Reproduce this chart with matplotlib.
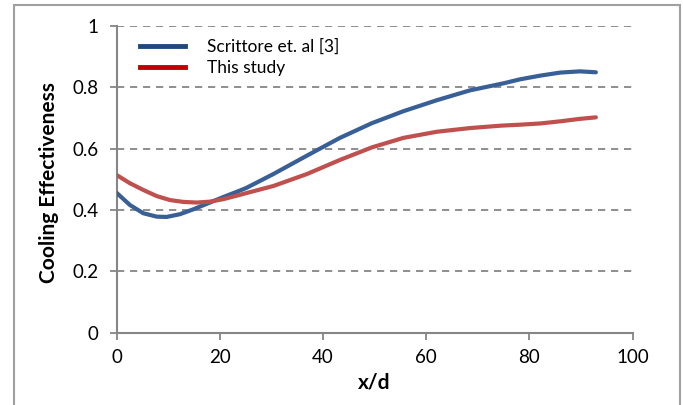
import matplotlib
matplotlib.use("Agg")
import matplotlib.pyplot as plt
from matplotlib.lines import Line2D
from matplotlib.patches import Rectangle

# Scrittore et. al [3]
x_scrittore = [0, 2.6, 5.2, 7.8, 9.7, 12.3, 14.9, 18.1, 20.7, 23.9, 25.2, 30.4, 36.9,
               43.3, 49.5, 55.6, 62.1, 68.5, 75.0, 78.2, 82.1, 86.0, 89.8, 92.9]
scrittore = [0.456, 0.416, 0.389, 0.378, 0.377, 0.386, 0.402, 0.424, 0.442, 0.463, 0.472,
             0.517, 0.577, 0.635, 0.683, 0.722, 0.758, 0.790, 0.813, 0.826, 0.838, 0.848,
             0.852, 0.849]
# This study
x_study = [0, 2.6, 5.2, 7.8, 10.4, 13.0, 15.6, 18.1, 20.7, 23.9, 25.2, 30.4, 36.9,
           43.3, 49.5, 55.6, 62.1, 68.5, 74.6, 78.2, 82.1, 86.0, 89.8, 92.9]
this_study = [0.514, 0.487, 0.465, 0.445, 0.432, 0.426, 0.424, 0.427, 0.435, 0.449, 0.455,
              0.478, 0.517, 0.563, 0.604, 0.635, 0.655, 0.667, 0.675, 0.678, 0.682, 0.689,
              0.697, 0.702]
series_names = ["Scrittore et. al [3]", "This study"]
x_ticks = [0, 20, 40, 60, 80, 100]
y_ticks = [0, 0.2, 0.4, 0.6, 0.8, 1]
y_tick_labels = ["0", "0.2", "0.4", "0.6", "0.8", "1"]

plt.rcParams['font.family'] = ['Lato', 'DejaVu Sans']

fig = plt.figure(figsize=(6.83, 4.05), dpi=100)
ax = fig.add_axes([116.5/683, 1-332.5/405, (632.5-116.5)/683, (332.5-26)/405])

fig.patches.append(Rectangle((13.5/683, -0.05), (680-13.5)/683, 1.05-5.5/405,
                             transform=fig.transFigure, fill=False,
                             edgecolor='#A0A0A0', lw=1.5))

gray = '#868686'
for yv in y_ticks[1:]:
    ax.axhline(yv, color=gray, lw=1.3, ls=(0, (4, 3.2)), zorder=1)

ax.plot(x_scrittore, scrittore, color='#386096', lw=3.0, solid_capstyle='round',
        solid_joinstyle='round', zorder=3)
ax.plot(x_study, this_study, color='#C0504D', lw=3.0, solid_capstyle='round',
        solid_joinstyle='round', zorder=3)

ax.set_xlim(0, 100)
ax.set_ylim(0, 1)
ax.set_xticks(x_ticks)
ax.set_yticks(y_ticks)
ax.set_yticklabels(y_tick_labels)
for s in ['top', 'right']:
    ax.spines[s].set_visible(False)
for s in ['left', 'bottom']:
    ax.spines[s].set_color(gray)
    ax.spines[s].set_linewidth(1.5)
ax.tick_params(axis='both', colors=gray, width=1.3, length=5, labelcolor='black',
               labelsize=13.5)
ax.tick_params(axis='x', pad=7)
ax.tick_params(axis='y', pad=8)

ax.set_xlabel("x/d", fontsize=15, fontweight='bold', va='center')
ax.xaxis.set_label_coords(0.5, -0.163)
ax.set_ylabel("Cooling Effectiveness", fontsize=15, fontweight='bold', va='center')
ax.yaxis.set_label_coords(-0.131, 0.49)

handles = [Line2D([], [], color='#1F497D', lw=3.5),
           Line2D([], [], color='#C00000', lw=3.5)]
ax.legend(handles, series_names, loc='upper left', bbox_to_anchor=(0.0455, 0.959),
          frameon=False, fontsize=12.5, handlelength=2.6, handletextpad=1.25,
          labelspacing=0.3, borderpad=0, borderaxespad=0)

fig.savefig("out.png", dpi=100)
